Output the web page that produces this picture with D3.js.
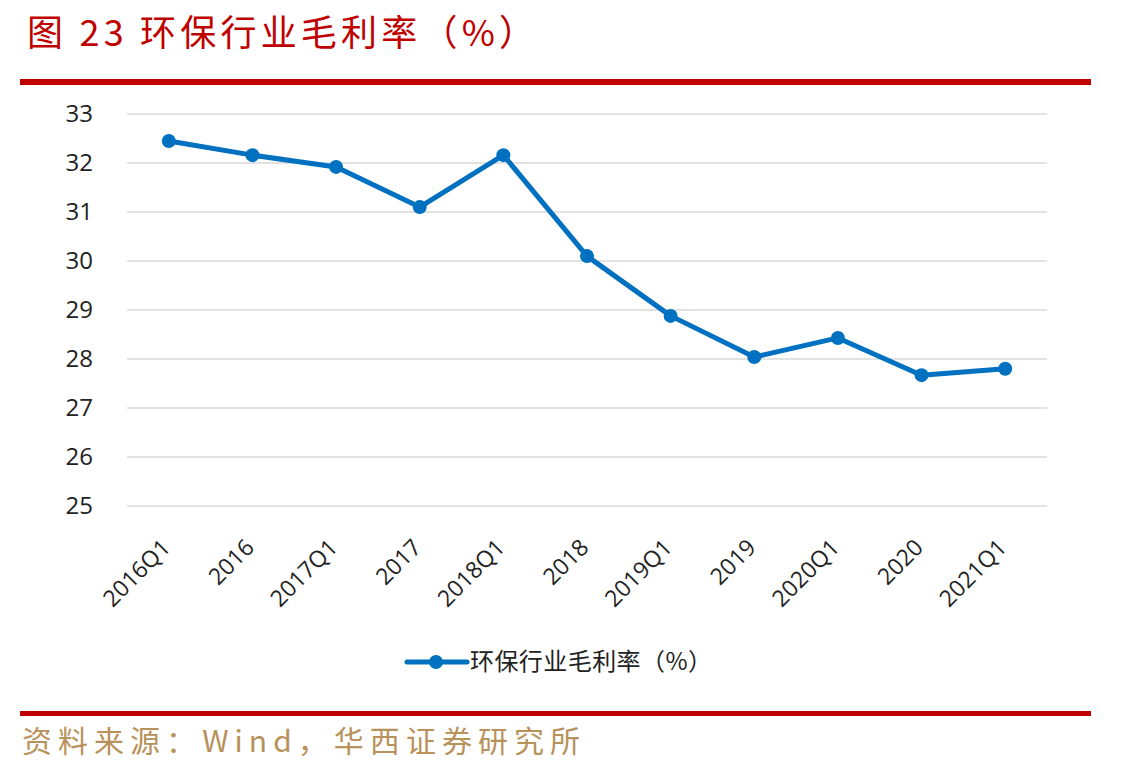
<!DOCTYPE html>
<html>
<head>
<meta charset="utf-8">
<script src="https://cdn.jsdelivr.net/npm/d3@7"></script>
<style>
  body { margin: 0; background: #fff; }
</style>
</head>
<body>
<div id="container"></div>
<script>
var categories = ["2016Q1","2016","2017Q1","2017","2018Q1","2018","2019Q1","2019","2020Q1","2020","2021Q1"];
var values = [32.45, 32.16, 31.92, 31.10, 32.16, 30.10, 28.88, 28.04, 28.43, 27.67, 27.80];
var yTicks = [25, 26, 27, 28, 29, 30, 31, 32, 33];
var seriesName = "环保行业毛利率（%）";

var W = 1137, H = 772;
var plot = {left: 127, right: 1047, top: 114, bottom: 506};

var svg = d3.select("#container")
    .append("svg")
        .attr("width", W)
        .attr("height", H);

// title
svg.append("text")
    .attr("x", 27)
    .attr("y", 46)
    .attr("fill", "#C00000")
    .attr("font-family", "'Noto Sans CJK SC', sans-serif")
    .attr("font-size", 36)
    .attr("textLength", 508)
    .attr("lengthAdjust", "spacing")
    .text("图 23 环保行业毛利率（%）");

svg.append("rect")
    .attr("x", 20).attr("y", 79)
    .attr("width", 1071).attr("height", 6)
    .attr("fill", "#C00000");

svg.append("rect")
    .attr("x", 20).attr("y", 711)
    .attr("width", 1071).attr("height", 5)
    .attr("fill", "#C00000");

svg.append("text")
    .attr("x", 22)
    .attr("y", 752)
    .attr("fill", "#B8925A")
    .attr("font-family", "'Noto Sans CJK SC', sans-serif")
    .attr("font-size", 30)
    .attr("textLength", 558)
    .attr("lengthAdjust", "spacing")
    .text("资料来源：Wind，华西证券研究所");

var x = d3.scaleBand()
    .domain(categories)
    .range([plot.left, plot.right]);

var y = d3.scaleLinear()
    .domain([25, 33])
    .range([plot.bottom, plot.top]);

// gridlines
svg.append("g")
    .selectAll("line")
    .data(yTicks)
    .enter()
    .append("line")
    .attr("x1", plot.left)
    .attr("x2", plot.right)
    .attr("y1", function(d) { return y(d); })
    .attr("y2", function(d) { return y(d); })
    .attr("stroke", "#d9d9d9")
    .attr("stroke-width", 1.5);

// y axis
var yAxis = svg.append("g")
    .attr("transform", "translate(" + (plot.left - 34) + ",0)")
    .call(d3.axisLeft(y).tickValues(yTicks).tickSize(0).tickPadding(0));
yAxis.select(".domain").remove();
yAxis.selectAll("text")
    .attr("fill", "#222")
    .attr("font-family", "'Open Sans', 'Noto Sans', sans-serif")
    .attr("font-size", 24)
    .attr("dy", "0.33em");

// x axis
var xAxis = svg.append("g")
    .attr("transform", "translate(0," + plot.bottom + ")")
    .call(d3.axisBottom(x).tickSize(0).tickPadding(0));
xAxis.select(".domain").remove();
xAxis.selectAll("text")
    .attr("fill", "#222")
    .attr("font-family", "'Open Sans', 'Noto Sans', sans-serif")
    .attr("font-size", 23)
    .attr("text-anchor", "end")
    .attr("dy", 0)
    .attr("y", 0)
    .attr("transform", "translate(3,43) rotate(-45)");

// line
var line = d3.line()
    .x(function(d, i) { return x(categories[i]) + x.bandwidth() / 2; })
    .y(function(d) { return y(d); });

svg.append("path")
    .datum(values)
    .attr("d", line)
    .attr("fill", "none")
    .attr("stroke", "#0070C0")
    .attr("stroke-width", 5)
    .attr("stroke-linejoin", "round");

svg.selectAll("circle.pt")
    .data(values)
    .enter()
    .append("circle")
    .attr("class", "pt")
    .attr("cx", function(d, i) { return x(categories[i]) + x.bandwidth() / 2; })
    .attr("cy", function(d) { return y(d); })
    .attr("r", 7)
    .attr("fill", "#0070C0");

// legend
var lg = svg.append("g").attr("transform", "translate(407,662)");
lg.append("line")
    .attr("x1", 0).attr("x2", 60)
    .attr("stroke", "#0070C0")
    .attr("stroke-width", 5)
    .attr("stroke-linecap", "round");
lg.append("circle")
    .attr("cx", 29).attr("r", 7)
    .attr("fill", "#0070C0");
lg.append("text")
    .attr("x", 63)
    .attr("dy", "0.35em")
    .attr("fill", "#222")
    .attr("font-family", "'Noto Sans CJK SC', sans-serif")
    .attr("font-size", 24)
    .attr("textLength", 242)
    .attr("lengthAdjust", "spacing")
    .text(seriesName);
</script>
</body>
</html>
